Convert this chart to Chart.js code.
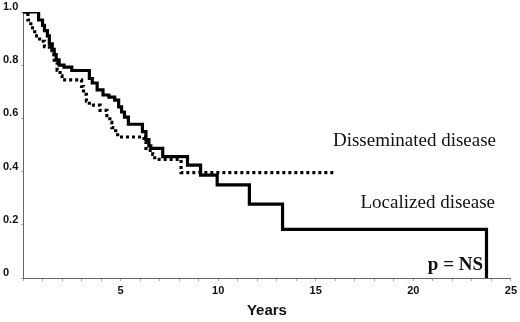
<!DOCTYPE html>
<html>
<head>
<meta charset="utf-8">
<script src="https://cdn.jsdelivr.net/npm/chart.js@4"></script>
<style>
  html, body { margin: 0; padding: 0; background: #fff; }
  #wrap { width: 520px; height: 322px; position: relative; }
</style>
</head>
<body>
<div id="wrap"><canvas id="c" width="520" height="322"></canvas></div>
<script>
// Localized disease (solid line): step times (years) and survival after each step
const localizedTimes = [0, 0.8, 1.0, 1.1, 1.25, 1.35, 1.5, 1.6, 1.7, 1.85, 2.1, 2.5, 3.4, 3.55, 3.8, 4.1, 4.4, 4.7, 4.9, 5.05, 5.2, 5.4, 6.12, 6.3, 6.45, 6.55, 7.16, 8.43, 9.1, 9.95, 11.6, 13.3, 23.75];
const localizedSurv  = [1.0, 0.97, 0.95, 0.93, 0.91, 0.88, 0.86, 0.84, 0.82, 0.80, 0.793, 0.78, 0.75, 0.733, 0.707, 0.688, 0.68, 0.669, 0.643, 0.624, 0.605, 0.578, 0.55, 0.52, 0.497, 0.487, 0.456, 0.424, 0.387, 0.35, 0.278, 0.183, 0];

// Disseminated disease (dotted line)
const dissTimes = [0, 0.25, 0.4, 0.6, 0.85, 1.1, 1.35, 1.5, 1.6, 1.75, 1.9, 2.0, 3.0, 3.1, 3.25, 3.4, 3.95, 4.3, 4.45, 4.55, 4.75, 4.85, 6.2, 6.3, 6.65, 6.75, 8.1, 15.9];
const dissSurv  = [1.0, 0.97, 0.94, 0.91, 0.89, 0.87, 0.855, 0.84, 0.81, 0.78, 0.76, 0.745, 0.72, 0.69, 0.665, 0.65, 0.63, 0.61, 0.585, 0.565, 0.545, 0.53, 0.51, 0.48, 0.465, 0.446, 0.396, 0.396];

// Tick labels
const xTickLabels = {5: '5', 10: '10', 15: '15', 20: '20', 25: '25'};
const yTickLabels = {0: '0', 0.2: '0.2', 0.4: '0.4', 0.6: '0.6', 0.8: '0.8', 1: '1.0'};

// Text annotations
const annotations = [
  { text: 'Disseminated disease', x: 496, y: 146, font: '19px "Liberation Serif", "Times New Roman", serif' },
  { text: 'Localized disease',    x: 495, y: 208, font: '19px "Liberation Serif", "Times New Roman", serif' },
  { text: 'p = NS',               x: 483, y: 270, font: 'bold 19px "Liberation Serif", "Times New Roman", serif' }
];

const toPoints = (xs, ys) => xs.map((x, i) => ({ x: x, y: ys[i] }));

const textPlugin = {
  id: 'textPlugin',
  afterDraw(chart) {
    const ctx = chart.ctx;
    ctx.save();
    ctx.fillStyle = '#111';
    ctx.textAlign = 'right';
    ctx.textBaseline = 'alphabetic';
    annotations.forEach(a => {
      ctx.font = a.font;
      ctx.fillText(a.text, a.x, a.y);
    });
    ctx.restore();
  }
};

new Chart(document.getElementById('c'), {
  type: 'line',
  data: {
    datasets: [
      {
        label: 'Localized disease',
        data: toPoints(localizedTimes, localizedSurv),
        borderColor: '#000',
        borderWidth: 3.2,
        stepped: true,
        pointRadius: 0,
        fill: false,
        borderCapStyle: 'butt',
        borderJoinStyle: 'miter'
      },
      {
        label: 'Disseminated disease',
        data: toPoints(dissTimes, dissSurv),
        borderColor: '#000',
        borderWidth: 3.2,
        borderDash: [3, 3],
        stepped: true,
        pointRadius: 0,
        fill: false,
        borderCapStyle: 'butt',
        borderJoinStyle: 'miter'
      }
    ]
  },
  options: {
    responsive: false,
    animation: false,
    devicePixelRatio: 1,
    layout: { padding: { left: 3, right: 8, top: 12, bottom: 0 } },
    plugins: {
      legend: { display: false },
      tooltip: { enabled: false }
    },
    scales: {
      x: {
        type: 'linear',
        min: 0,
        max: 25,
        afterFit(scale) { scale.height = 44; },
        border: { display: true, color: '#666', width: 1 },
        grid: { display: true, drawOnChartArea: false, drawTicks: true, tickLength: 3, color: '#aaa' },
        ticks: {
          stepSize: 1,
          autoSkip: false,
          maxRotation: 0,
          padding: 3,
          color: '#111',
          font: { family: '"Liberation Sans", Arial, sans-serif', size: 11, weight: 'bold' },
          callback: (v) => (xTickLabels[v] !== undefined ? xTickLabels[v] : '')
        },
        title: {
          display: true,
          text: 'Years',
          color: '#111',
          font: { family: '"Liberation Sans", Arial, sans-serif', size: 15, weight: 'bold' },
          padding: { top: 0, bottom: 2 }
        }
      },
      y: {
        type: 'linear',
        min: 0,
        max: 1,
        afterFit(scale) { scale.width = 20; },
        border: { display: true, color: '#666', width: 1 },
        grid: { display: true, drawOnChartArea: false, drawTicks: true, tickLength: 2, color: '#aaa' },
        ticks: {
          stepSize: 0.2,
          crossAlign: 'far',
          labelOffset: -5,
          padding: 2,
          color: '#111',
          font: { family: '"Liberation Sans", Arial, sans-serif', size: 11, weight: 'bold' },
          callback: (v) => {
            const key = Math.round(v * 10) / 10;
            return yTickLabels[key] !== undefined ? yTickLabels[key] : '';
          }
        }
      }
    }
  },
  plugins: [textPlugin]
});
</script>
</body>
</html>
